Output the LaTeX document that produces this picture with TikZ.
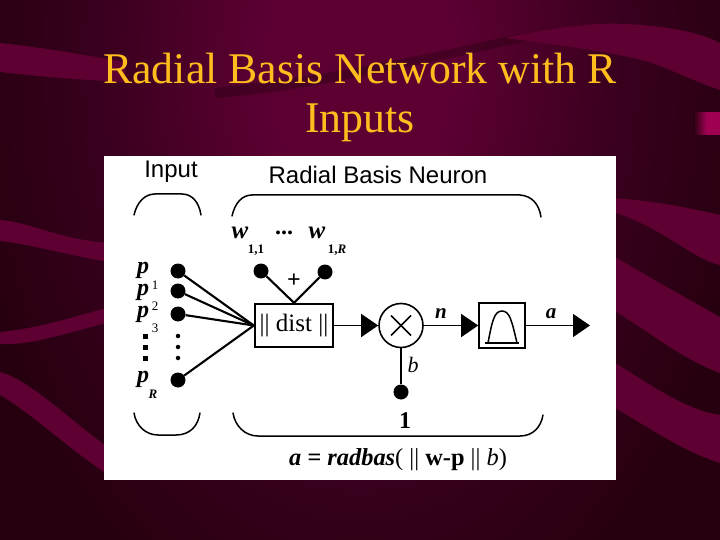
\documentclass[tikz,border=0pt]{standalone}
\usepackage{fontspec}
\setmainfont{Liberation Serif}
\setsansfont{Liberation Sans}
\usetikzlibrary{arrows.meta}
\definecolor{bgdark}{HTML}{26000F}
\definecolor{bgmid}{HTML}{3A001E}
\definecolor{bglight}{HTML}{5C0032}
\definecolor{swoosh}{HTML}{5E0031}
\definecolor{titlecol}{HTML}{FFBE1E}
\definecolor{glowcol}{HTML}{A00052}
\pgfdeclareradialshading{bgglow}{\pgfpoint{0bp}{0bp}}{color(0bp)=(bglight); color(6bp)=(bglight); color(16bp)=(bgmid); color(25bp)=(bgdark); color(50bp)=(bgdark)}
\newcommand{\fsz}[1]{\fontsize{#1pt}{#1pt}\selectfont}
\tikzset{
  swooshband/.style={fill=swoosh,draw=none},
  inkline/.style={draw=black,line width=2.1pt},
  thinink/.style={draw=black,line width=1.4pt},
  brace/.style={draw=black,line width=1.5pt,line cap=round},
  indot/.style={circle,fill=black,inner sep=0pt,minimum size=15pt},
  smalldot/.style={circle,fill=black,inner sep=0pt,minimum size=4.5pt},
  squaredot/.style={rectangle,fill=black,inner sep=0pt,minimum size=5pt},
  varlabel/.style={font=\fsz{25}\bfseries\itshape,inner sep=0pt},
  sublabel/.style={font=\fsz{13}\bfseries,inner sep=0pt},
  headlabel/.style={font=\sffamily\fsz{24},inner sep=0pt},
  bigtip/.style={-{Triangle[length=17pt,width=23pt]}},
  titletext/.style={font=\fsz{43.8},text=titlecol,inner sep=0pt}
}
\begin{document}
\begin{tikzpicture}[x=1pt,y=-1pt]
\useasboundingbox (0,0) rectangle (720,540);
\begin{scope}
\clip (0,0) rectangle (720,540);
\fill[bgdark] (0,0) rectangle (720,540);
\shade[shading=bgglow] (360,60) ellipse (400 and 620);
% shadow and swooshes
\fill[bgdark,opacity=.4] (215,88) .. controls (330,76) and (430,54) .. (505,37) .. controls (550,28) and (580,25) .. (600,26) .. controls (560,34) and (520,42) .. (470,54) .. controls (380,72) and (300,92) .. (215,98) -- cycle;
\path[swooshband] (0,43) .. controls (40,47) and (90,56) .. (125,62) -- (125,82) .. controls (80,80) and (35,76) .. (0,72) -- cycle;
\path[swooshband] (505,38) .. controls (540,30) and (590,22) .. (625,24) .. controls (665,26) and (700,32) .. (720,43) -- (720,90) .. controls (690,80) and (665,66) .. (642,60) .. controls (600,50) and (550,44) .. (505,38) -- cycle;
\path[swooshband] (0,220) .. controls (30,222) and (60,240) .. (110,243) -- (110,262) .. controls (70,256) and (30,244) .. (0,241) -- cycle;
\path[swooshband] (0,332) .. controls (40,328) and (70,318) .. (110,307) -- (110,322) .. controls (70,332) and (30,346) .. (0,344) -- cycle;
\path[swooshband] (0,372) .. controls (30,380) and (70,420) .. (110,449) -- (110,476) .. controls (70,450) and (30,412) .. (0,395) -- cycle;
\path[swooshband] (610,198) .. controls (650,200) and (690,208) .. (720,215) -- (720,265) .. controls (690,258) and (665,228) .. (610,211) -- cycle;
\path[swooshband] (610,254) .. controls (650,278) and (690,300) .. (720,317) -- (720,373) .. controls (680,358) and (650,332) .. (610,308) -- cycle;
\path[swooshband] (610,360) .. controls (650,384) and (685,410) .. (720,415) -- (720,463) .. controls (680,450) and (650,428) .. (610,405) -- cycle;
\shade[left color=bgdark,right color=glowcol,middle color=glowcol] (693,113) rectangle (720,135);
\end{scope}
% title
\node[titletext] (title1) at (360,69) {Radial Basis Network with R};
\node[titletext] (title2) at (360,123) {Inputs};
% white panel
\fill[white] (104,156) rectangle (616,480);
% headings
\node[headlabel] (inputhead) at (171,172) {Input};
\node[headlabel] (neuronhead) at (378,175) {Radial Basis Neuron};
% braces
\draw[brace] (134,215) .. controls (137,202) and (145,194) .. (155,194) -- (182,194) .. controls (192,194) and (199,202) .. (201,215);
\draw[brace] (232,216) .. controls (235,203) and (242,195) .. (252,195) -- (520,195) .. controls (532,196) and (539,204) .. (541,217);
\draw[brace] (134,413) .. controls (136,426) and (146,435) .. (158,435) -- (176,435) .. controls (190,435) and (198,426) .. (200,413);
\draw[brace] (233,413) .. controls (235,426) and (245,436) .. (258,436) -- (520,436) .. controls (533,436) and (541,427) .. (543,415);
% weights
\node[varlabel] (w1) at (240,233) {w};
\node[sublabel] (w1sub) at (256,250) {1,1};
\node[font=\fsz{24}\bfseries,inner sep=0pt] (wdots) at (284,233) {...};
\node[varlabel] (wr) at (317,233) {w};
\node[sublabel] (wrsub) at (337,250) {1,\textit{R}};
\node[indot] (wdot1) at (261,271) {};
\node[indot] (wdotr) at (325,272) {};
\node[font=\fsz{24}\bfseries,inner sep=0pt] (plus) at (294,281) {+};
% dist box
\node[draw=black,line width=2.4pt,minimum width=78pt,minimum height=43pt,inner sep=0pt,font=\fsz{25}] (dist) at (294,325.5) {|| dist ||};
% inputs
\node[varlabel,font=\fsz{24}\bfseries\itshape] (p1) at (143,270) {p};
\node[sublabel,font=\fsz{13}] (p1sub) at (155,285) {1};
\node[varlabel,font=\fsz{24}\bfseries\itshape] (p2) at (143,292) {p};
\node[sublabel,font=\fsz{13}] (p2sub) at (155,306) {2};
\node[varlabel,font=\fsz{24}\bfseries\itshape] (p3) at (143,314) {p};
\node[sublabel,font=\fsz{13}] (p3sub) at (155,328) {3};
\node[varlabel,font=\fsz{24}\bfseries\itshape] (pr) at (143,379) {p};
\node[sublabel,font=\fsz{13}\bfseries\itshape] (prsub) at (153,394) {R};
\node[squaredot] (ld1) at (145,336) {};
\node[squaredot] (ld2) at (145,347) {};
\node[squaredot] (ld3) at (145,358) {};
\node[smalldot] (rd1) at (178,336) {};
\node[smalldot] (rd2) at (178,347) {};
\node[smalldot] (rd3) at (178,358) {};
\node[indot] (in1) at (178,271) {};
\node[indot] (in2) at (178,291) {};
\node[indot] (in3) at (178,314) {};
\node[indot] (inr) at (178,380) {};
\draw[inkline] (in1) -- (dist.west);
\draw[inkline] (in2) -- (dist.west);
\draw[inkline] (in3) -- (dist.west);
\draw[inkline] (inr) -- (dist.west);
\draw[inkline] (wdot1) -- (dist.north);
\draw[inkline] (wdotr) -- (dist.north);
% product
\node[circle,draw=black,line width=1.6pt,minimum size=44pt,inner sep=0pt] (times) at (401,325.5) {};
\draw[line width=1.7pt] (391,315.5) -- (411,335.5);
\draw[line width=1.7pt] (411,315.5) -- (391,335.5);
\draw[thinink,bigtip] (dist.east) -- (times.west);
% transfer box
\node[draw=black,line width=1.6pt,minimum width=46pt,minimum height=45pt,inner sep=0pt] (tf) at (502,325.5) {};
\draw[line width=1.5pt] (485,343) -- (519,343);
\draw[line width=1.5pt] (488,343) .. controls (492,322) and (494,311) .. (502,311) .. controls (510,311) and (512,322) .. (517,343);
\draw[thinink,bigtip] (times.east) -- (tf.west);
\coordinate (outend) at (590,325.5);
\draw[thinink,bigtip] (tf.east) -- (outend);
\node[varlabel,font=\fsz{21}\bfseries\itshape] (nlab) at (441,314) {n};
\node[varlabel,font=\fsz{21}\bfseries\itshape] (alab) at (551,314) {a};
% bias
\node[indot] (bias) at (401,392) {};
\draw[line width=2.6pt] (times.south) -- (bias);
\node[varlabel,font=\fsz{22}\itshape] (blab) at (413,365) {b};
\node[font=\fsz{24}\bfseries,inner sep=0pt] (one) at (405,421) {1};
% formula
\node[font=\fsz{24.4},inner sep=0pt] (formula) at (398,460) {\textbf{\textit{a = radbas}}( || \textbf{w-p} || \textit{b})};
\end{tikzpicture}
\end{document}
